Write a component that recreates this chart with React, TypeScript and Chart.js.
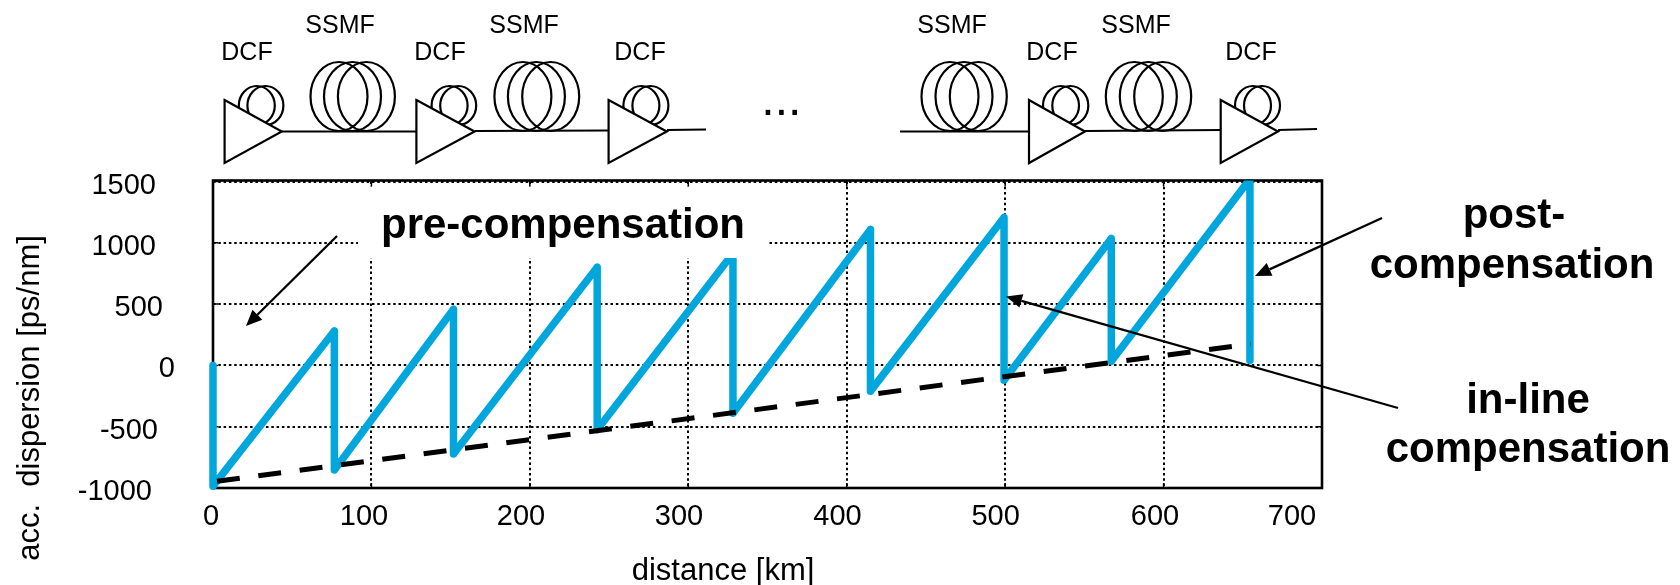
import React, { useEffect, useRef } from "react";
import { Chart, registerables } from "chart.js";

Chart.register(...registerables);

const FONT = '"Liberation Sans", Arial, sans-serif';
const BLUE = "#00A6DC";

// --- data ---
const distanceKm = [0, 0, 76.6, 76.6, 151.8, 151.8, 242.5, 242.5, 328.2, 328.2, 415, 415, 499.3, 499.3, 567, 567, 654.5, 654.5];
const dispersion = [0, -985, 281, -853, 458, -723, 800, -525, 915, -390, 1109, -210, 1206, -122, 1036, 34, 1520, 40];
const netDistanceKm = [2.5, 655];
const netDispersion = [-945, 175];
const xTicks = [0, 100, 200, 300, 400, 500, 600, 700];
const yTicks = [1500, 1000, 500, 0, -500, -1000];

// --- layout of the drawing around the plot ---
const xLabelCentre = [211, 364, 521, 679, 837.5, 995.6, 1155, 1292];
const yLabelRight = [156, 156, 163, 175, 158, 152];

const fibreLabels: [string, number, number][] = [
  ["SSMF", 340, 33], ["SSMF", 524, 33], ["SSMF", 952, 33], ["SSMF", 1136, 33],
  ["DCF", 247, 60], ["DCF", 440, 60], ["DCF", 640, 60], ["DCF", 1052, 60], ["DCF", 1251, 60],
];
const boldLabels: [string, number, number][] = [
  ["pre-compensation", 563, 238],
  ["post-", 1514, 228],
  ["compensation", 1512, 278],
  ["in-line", 1528, 413],
  ["compensation", 1528, 462],
];
const arrows = [
  [337, 236, 246, 326],
  [1382, 218, 1255, 276],
  [1398, 408, 1006, 296.5],
];
const spans = [
  [282, 131.5, 417, 131.5], [475, 131, 609, 130.5], [667, 130, 706, 129.5],
  [900, 131.5, 1029, 131.5], [1085, 131, 1221, 130], [1278, 130, 1317, 129],
];
const bigCoils = [
  [339, 352.5, 366.4], [522.9, 536.4, 550.7], [950, 964, 978.3], [1134.3, 1148.3, 1162.7],
];
const smallCoils = [
  [256.8, 265.4], [449.6, 458.2], [641.4, 650.4], [1061, 1070.3], [1253, 1262],
];
const amps = [
  [224.6, 281.8], [416.4, 474.6], [608.6, 666.8], [1029, 1085], [1220.7, 1278],
];

const overlay = {
  id: "overlay",
  beforeDatasetsDraw(chart: any) {
    const { ctx, chartArea: a, scales } = chart;
    ctx.save();
    // frame and inward ticks sit under the curves
    ctx.strokeStyle = "#000";
    ctx.lineWidth = 2.6;
    ctx.setLineDash([]);
    ctx.strokeRect(a.left, a.top - 1, a.right - a.left, a.bottom - a.top + 1);
    ctx.lineWidth = 1.5;
    ctx.beginPath();
    xTicks.forEach((v) => {
      const x = scales.x.getPixelForValue(v);
      ctx.moveTo(x, a.top);
      ctx.lineTo(x, a.top + 5);
      ctx.moveTo(x, a.bottom);
      ctx.lineTo(x, a.bottom - 5);
    });
    yTicks.forEach((v) => {
      const y = scales.y.getPixelForValue(v);
      ctx.moveTo(a.left, y);
      ctx.lineTo(a.left + 5, y);
      ctx.moveTo(a.right, y);
      ctx.lineTo(a.right - 5, y);
    });
    ctx.stroke();
    ctx.restore();
  },
  afterDatasetsDraw(chart: any) {
    const { ctx, scales } = chart;
    ctx.save();

    // white box behind the title
    ctx.fillStyle = "#fff";
    ctx.fillRect(358, 187, 409, 71);
    ctx.strokeStyle = "#000";

    // tick labels
    ctx.fillStyle = "#000";
    ctx.font = `29px ${FONT}`;
    ctx.textBaseline = "alphabetic";
    ctx.textAlign = "center";
    xTicks.forEach((v, i) => ctx.fillText(String(v), xLabelCentre[i], 525));
    ctx.textAlign = "right";
    yTicks.forEach((v, i) =>
      ctx.fillText(String(v), yLabelRight[i], scales.y.getPixelForValue(v) + 12)
    );

    // axis titles
    ctx.textAlign = "center";
    ctx.font = `31px ${FONT}`;
    ctx.fillText("distance [km]", 723, 580);
    ctx.save();
    ctx.translate(38.5, 398);
    ctx.rotate(-Math.PI / 2);
    ctx.fillText("acc.  dispersion [ps/nm]", 0, 0);
    ctx.restore();

    // bold annotations
    ctx.font = `bold 42px ${FONT}`;
    boldLabels.forEach(([t, x, y]) => ctx.fillText(t, x, y));

    // arrows
    ctx.lineWidth = 2.3;
    arrows.forEach(([x0, y0, x1, y1]) => {
      const ang = Math.atan2(y1 - y0, x1 - x0);
      const hl = 16;
      const hw = 7;
      const bx = x1 - hl * Math.cos(ang);
      const by = y1 - hl * Math.sin(ang);
      ctx.beginPath();
      ctx.moveTo(x0, y0);
      ctx.lineTo(bx, by);
      ctx.stroke();
      ctx.beginPath();
      ctx.moveTo(x1, y1);
      ctx.lineTo(bx - hw * Math.sin(ang), by + hw * Math.cos(ang));
      ctx.lineTo(bx + hw * Math.sin(ang), by - hw * Math.cos(ang));
      ctx.closePath();
      ctx.fill();
    });

    // link schematic
    ctx.lineWidth = 2.2;
    ctx.font = `25px ${FONT}`;
    ctx.textAlign = "center";
    fibreLabels.forEach(([t, x, y]) => ctx.fillText(t, x, y));
    spans.forEach(([x0, y0, x1, y1]) => {
      ctx.beginPath();
      ctx.moveTo(x0, y0);
      ctx.lineTo(x1, y1);
      ctx.stroke();
    });
    bigCoils.forEach((c) =>
      c.forEach((x) => {
        ctx.beginPath();
        ctx.ellipse(x, 96.5, 28.5, 34.5, 0, 0, Math.PI * 2);
        ctx.stroke();
      })
    );
    smallCoils.forEach((c) =>
      c.forEach((x) => {
        ctx.beginPath();
        ctx.ellipse(x, 105.5, 18, 19.5, 0, 0, Math.PI * 2);
        ctx.stroke();
      })
    );
    amps.forEach(([l, tip]) => {
      ctx.beginPath();
      ctx.moveTo(l, 100);
      ctx.lineTo(tip, 131.5);
      ctx.lineTo(l, 163);
      ctx.closePath();
      ctx.fillStyle = "#fff";
      ctx.fill();
      ctx.stroke();
    });
    ctx.fillStyle = "#000";
    ctx.font = `48px ${FONT}`;
    ctx.fillText("...", 781.3, 115);

    ctx.restore();
  },
};

export default function App() {
  const ref = useRef<HTMLCanvasElement>(null);
  useEffect(() => {
    const chart = new Chart(ref.current!, {
      type: "scatter",
      data: {
        datasets: [
          {
            data: netDistanceKm.map((x, i) => ({ x, y: netDispersion[i] })),
            showLine: true,
            borderColor: "#000",
            borderWidth: 5,
            borderDash: [23, 18.7],
            pointRadius: 0,
            clip: false,
          },
          {
            data: distanceKm.map((x, i) => ({ x, y: dispersion[i] })),
            showLine: true,
            borderColor: BLUE,
            borderWidth: 7.5,
            borderJoinStyle: "round",
            pointRadius: 0,
            clip: { left: 10, right: 0, top: 1, bottom: 10 },
          },
        ],
      },
      options: {
        responsive: false,
        animation: false,
        events: [],
        layout: { padding: { left: 213, right: 358, top: 181.5, bottom: 97 } },
        plugins: { legend: { display: false }, tooltip: { enabled: false } },
        scales: {
          x: {
            type: "linear",
            min: 0,
            max: 700,
            ticks: { display: false, stepSize: 100 },
            grid: { color: "#000", lineWidth: 2, drawTicks: false },
            border: { display: false, dash: [2.5, 2.8] },
          },
          y: {
            type: "linear",
            min: -1000,
            max: 1500,
            ticks: { display: false, stepSize: 500 },
            grid: { color: "#000", lineWidth: 2, drawTicks: false },
            border: { display: false, dash: [2.5, 2.8] },
          },
        },
      },
      plugins: [overlay],
    } as any);
    return () => chart.destroy();
  }, []);
  return (
    <div style={{ position: "fixed", left: 0, top: 0, background: "#fff" }}>
      <canvas ref={ref} width={1680} height={585} style={{ display: "block" }} />
    </div>
  );
}
